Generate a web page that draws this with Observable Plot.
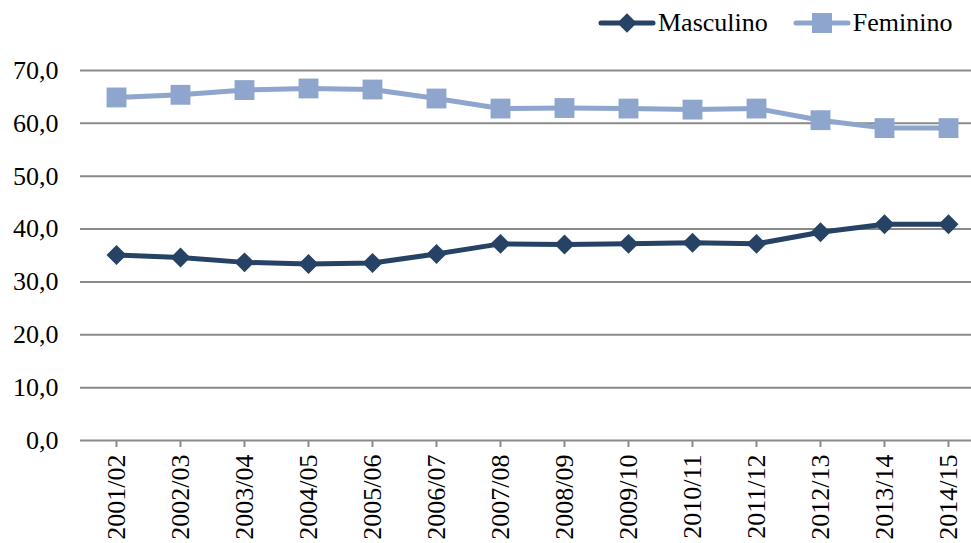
<!DOCTYPE html>
<html>
<head>
<meta charset="utf-8">
<script src="https://cdn.jsdelivr.net/npm/d3@7"></script>
<script src="https://cdn.jsdelivr.net/npm/@observablehq/plot@0.6"></script>
<style>
  html, body { margin: 0; padding: 0; background: #fff; }
  #wrap { position: relative; width: 971px; height: 543px; overflow: hidden; font-family: 'Liberation Serif', 'Times New Roman', Times, 'DejaVu Serif', serif; }
  #legend { position: absolute; top: 8px; left: 598px; display: flex; align-items: center; font-size: 26px; color: #000; }
  #legend .item { display: flex; align-items: center; margin-right: 25px; }
  #legend svg { margin-right: 2px; }
  svg text { font-family: 'Liberation Serif', 'Times New Roman', Times, 'DejaVu Serif', serif; }
</style>
</head>
<body>
<div id="wrap">
  <div id="chart"></div>
  <div id="legend"></div>
</div>
<script>
const years = ["2001/02","2002/03","2003/04","2004/05","2005/06","2006/07","2007/08","2008/09","2009/10","2010/11","2011/12","2012/13","2013/14","2014/15"];
const masculino = [35.1, 34.6, 33.7, 33.4, 33.6, 35.3, 37.2, 37.1, 37.2, 37.4, 37.2, 39.4, 40.9, 40.9];
const feminino  = [64.9, 65.4, 66.3, 66.6, 66.4, 64.7, 62.8, 62.9, 62.8, 62.6, 62.8, 60.6, 59.1, 59.1];
const yTicks = [0, 10, 20, 30, 40, 50, 60, 70];
const seriesNames = ["Masculino", "Feminino"];
const colors = {Masculino: "#264264", Feminino: "#8EA6CD"};

const masc = years.map((y, i) => ({year: y, value: masculino[i]}));
const fem = years.map((y, i) => ({year: y, value: feminino[i]}));
const fmt = d => d.toFixed(1).replace(".", ",");
const serif = "'Liberation Serif', 'Times New Roman', Times, 'DejaVu Serif', serif";

const chart = Plot.plot({
  width: 971,
  height: 543,
  marginLeft: 80,
  marginRight: 0,
  marginTop: 70,
  marginBottom: 103,
  style: {fontFamily: serif, fontSize: "26px", color: "#000", background: "#fff", overflow: "visible"},
  x: {type: "point", domain: years, range: [113, 951], padding: 0, label: null},
  y: {domain: [0, 70], label: null},
  marks: [
    Plot.ruleY(yTicks, {stroke: "#8a8a8a", strokeWidth: 2, strokeOpacity: 1}),
    Plot.axisY({ticks: yTicks, tickSize: 0, tickPadding: 22, tickFormat: fmt, fontSize: 26, label: null}),
    Plot.axisX({tickSize: 7, tickPadding: 7, tickRotate: -90, stroke: "#8a8a8a", strokeWidth: 2, strokeOpacity: 1, fontSize: 26, label: null}),
    Plot.line(fem, {x: "year", y: "value", stroke: colors.Feminino, strokeWidth: 5}),
    Plot.dot(fem, {x: "year", y: "value", symbol: "square", r: 11.2, fill: colors.Feminino}),
    Plot.line(masc, {x: "year", y: "value", stroke: colors.Masculino, strokeWidth: 5}),
    Plot.dot(masc, {x: "year", y: "value", symbol: "diamond2", r: 9, fill: colors.Masculino})
  ]
});
document.getElementById("chart").appendChild(chart);

// Legend
const legend = d3.select("#legend");
seriesNames.forEach(name => {
  const item = legend.append("div").attr("class", "item");
  const s = item.append("svg").attr("width", 58).attr("height", 30);
  s.append("line").attr("x1", 3).attr("x2", 55).attr("y1", 15).attr("y2", 15)
    .attr("stroke", colors[name]).attr("stroke-width", 5).attr("stroke-linecap", "round");
  if (name === "Masculino") {
    s.append("path").attr("transform", "translate(29,15)").attr("d", d3.symbol(d3.symbolDiamond2, 240)()).attr("fill", colors[name]);
  } else {
    s.append("rect").attr("x", 19).attr("y", 5).attr("width", 20).attr("height", 20).attr("fill", colors[name]);
  }
  item.append("span").text(name);
});
</script>
</body>
</html>
